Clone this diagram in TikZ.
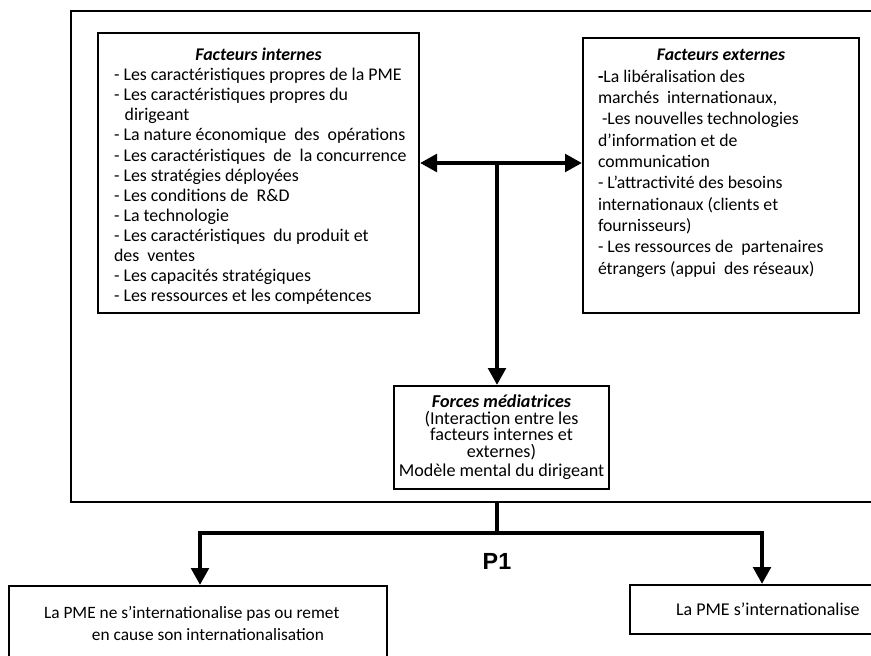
\documentclass[tikz,border=0pt]{standalone}
\usepackage{fontspec}
\setmainfont{Carlito}
\newfontfamily\arialfont{Liberation Sans}
\usetikzlibrary{arrows.meta}
\tikzset{
  box/.style={draw, line width=1.5pt, inner sep=0pt, anchor=north west},
  bigline/.style={line width=3.6pt},
  bigarrow/.style={line width=3.6pt, -{Triangle[length=12.75pt,width=13pt]}},
  bigboth/.style={line width=3.6pt, {Triangle[length=12.75pt,width=13pt]}-{Triangle[length=12.75pt,width=13pt]}}
}
\begin{document}
\begin{tikzpicture}[x=0.75pt,y=-0.75pt]
\useasboundingbox (0,0) rectangle (871,656);
\clip (0,0) rectangle (871,656);
\fill[white] (0,0) rectangle (871,656);

% outer frame
\node[box, minimum width=607.5pt, minimum height=368.25pt] (outer) at (70,10) {};

% internal factors
\node[box, minimum width=240.75pt, minimum height=210pt] (int) at (97,32) {%
\begin{minipage}[c][210pt][c]{240.75pt}\fontsize{13.4}{15.1}\selectfont
\vspace*{5pt}
{\centering\bfseries\itshape Facteurs internes\par}
\raggedright\leftskip=12pt
- Les caractéristiques propres de la PME\\
- Les caractéristiques propres du\\
\hspace*{8pt}dirigeant\\
- La nature économique\ \ des\ \ opérations\\
- Les caractéristiques\ \ de\ \ la concurrence\\
- Les\ stratégies déployées\\
- Les conditions de\ \ R\&D\\
- La technologie\\
- Les caractéristiques\ \ du produit et\\
des\ \ ventes\\
- Les capacités stratégiques\\
- Les ressources et les compétences\par
\end{minipage}};

% external factors
\node[box, minimum width=207pt, minimum height=206.25pt] (ext) at (582,37) {%
\begin{minipage}[c][206.25pt][t]{207pt}\fontsize{13.3}{16}\selectfont
\vspace*{8.5pt}
{\centering\bfseries\itshape Facteurs externes\par}
\raggedright\leftskip=11.25pt
\textbf{-}La libéralisation des\\
marchés\ \ internationaux,\\
\hspace*{3pt}-Les nouvelles technologies\\
d’information et de\\
communication\\
- L’attractivité des besoins\\
internationaux (clients et\\
fournisseurs)\\
- Les ressources de\ \ partenaires\\
étrangers (appui\ \ des réseaux)\par
\end{minipage}};

% mediating forces
\node[box, minimum width=161.25pt, minimum height=77.25pt] (med) at (393,385) {%
\begin{minipage}[c][77.25pt][c]{161.25pt}\fontsize{13.6}{12.4}\selectfont\centering
{\bfseries\itshape Forces médiatrices}\\
(Interaction entre les\\
facteurs internes et\\
externes)\\[2pt]
Modèle mental du dirigeant\par
\end{minipage}};

% outcomes
\node[box, minimum width=283.5pt, minimum height=75pt] (left) at (8,585) {%
\begin{minipage}[c][75pt][t]{283.5pt}\fontsize{13}{16.5}\selectfont
\vspace*{15pt}
\raggedright\leftskip=26.25pt
La PME ne s’internationalise pas ou remet\\
\hspace*{36pt}en cause son internationalisation\par
\end{minipage}};

\node[box, minimum width=195pt, minimum height=36.75pt] (right) at (629,584) {%
\begin{minipage}[c][36.75pt][c]{195pt}\fontsize{13.5}{14}\selectfont
\raggedright\leftskip=34.5pt
La PME s’internationalise\par
\end{minipage}};

\node[font=\arialfont\bfseries\fontsize{17.5}{20}\selectfont, inner sep=0pt] (p1) at (497,561) {P1};

% connectors
\coordinate (hub) at (497,163);
\draw[bigboth] (int.east |- hub) -- (ext.west |- hub);
\draw[bigarrow] (hub) -- (hub |- med.north);

\coordinate (j) at (497,533);
\coordinate (jl) at (200,533);
\coordinate (jr) at (762,533);
\draw[bigline] (j |- outer.south) -- (j);
\draw[bigarrow] (j) -- (jl) -- (jl |- left.north);
\draw[bigarrow] (j) -- (jr) -- (jr |- right.north);
\end{tikzpicture}
\end{document}
